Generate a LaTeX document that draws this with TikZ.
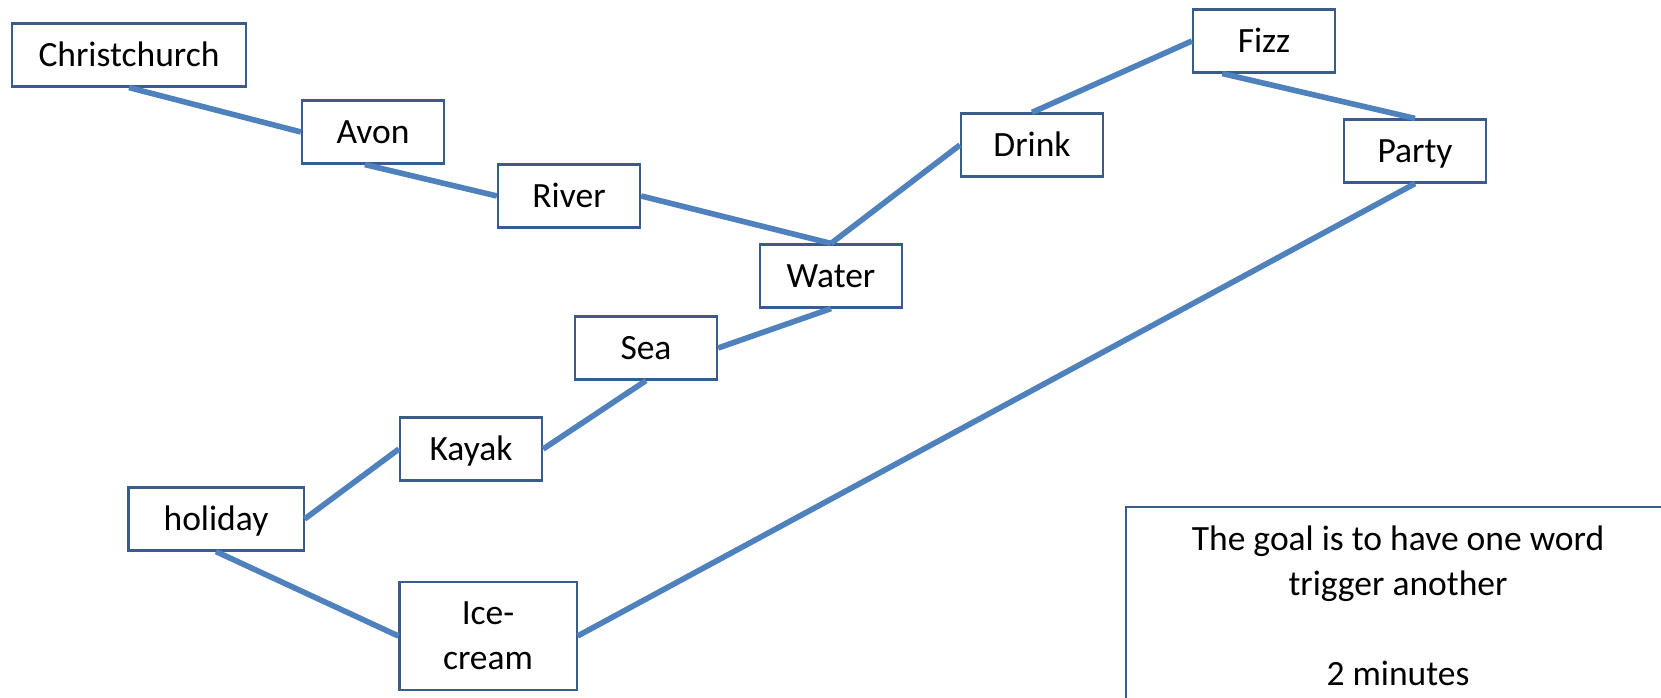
\documentclass[tikz,border=0pt]{standalone}
\usepackage{fontspec}
\setmainfont{Carlito}
\definecolor{linkblue}{HTML}{4F81BD}
\definecolor{boxline}{HTML}{385D8A}

\begin{document}
\begin{tikzpicture}[x=0.01cm,y=-0.01cm,
        wordbox/.style={draw=boxline,line width=0.6pt,fill=white,inner sep=0pt,
            minimum width=1.42cm,minimum height=0.63cm,font=\fontsize{10.1}{12.8}\selectfont},
        word/.style={wordbox,text height=0.64em,text depth=0pt},
        link/.style={linkblue,line width=1.6pt}]
    \clip (0,0) rectangle (1661,698);
    % Words
    \node[word,minimum width=2.33cm] (christchurch) at (129,55) {Christchurch};
    \node[word] (avon) at (373,132) {Avon};
    \node[word] (river) at (569,196) {River};
    \node[word] (water) at (831,276) {Water};
    \node[word] (drink) at (1032,145) {Drink};
    \node[word] (fizz) at (1264,41) {Fizz};
    \node[word] (party) at (1415,151) {Party};
    \node[word] (sea) at (646,348) {Sea};
    \node[word] (kayak) at (471,449) {Kayak};
    \node[word,minimum width=1.75cm] (holiday) at (216,519) {holiday};
    \node[wordbox,align=center,minimum width=1.77cm,minimum height=1.08cm] (icecream) at (488,636) {Ice-\\cream};
    % Chain
    \draw[link] (christchurch.south) -- (avon.west);
    \draw[link] (avon.256) -- (river.west);
    \draw[link] (river.east) -- (water.north);
    \draw[link] (water.north) -- (drink.west);
    \draw[link] (drink.north) -- (fizz.west);
    \draw[link] (fizz.218) -- (party.north);
    \draw[link] (party.south) -- (icecream.east);
    \draw[link] (water.south) -- (sea.east);
    \draw[link] (sea.south) -- (kayak.east);
    \draw[link] (kayak.west) -- (holiday.east);
    \draw[link] (holiday.south) -- (icecream.west);
    % Task
    \node[wordbox,anchor=north,align=center,inner ysep=0.19cm,minimum width=5.44cm] (goal) at (1398,506)
        {The goal is to have one word\\trigger another\\[\baselineskip]2 minutes\rule[-0.5cm]{0pt}{0pt}};
\end{tikzpicture}
\end{document}
